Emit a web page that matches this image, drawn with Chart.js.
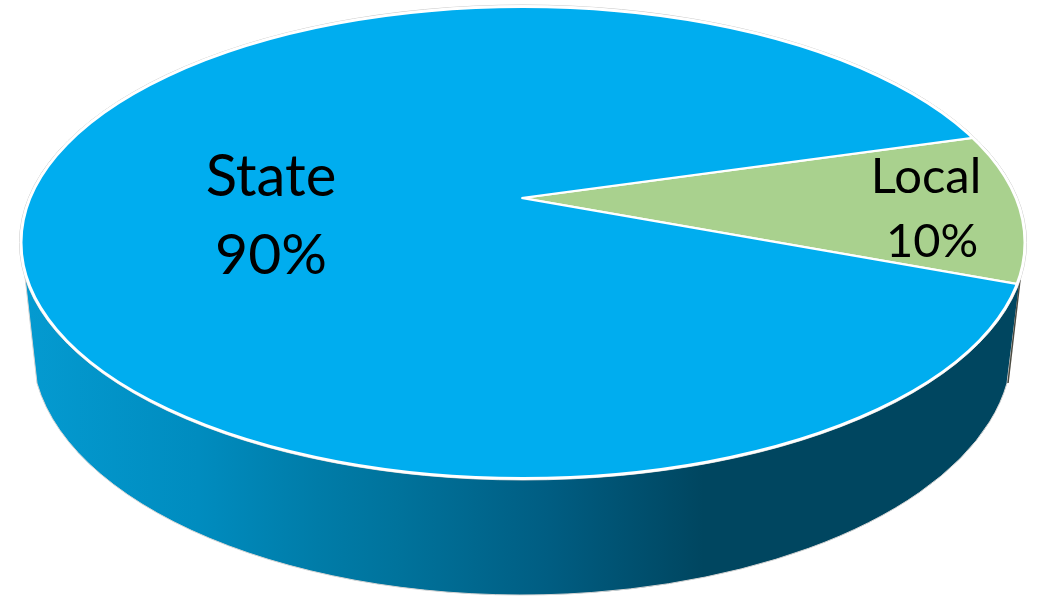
<!DOCTYPE html>
<html>
<head>
<meta charset="utf-8">
<style>
  html, body { margin: 0; padding: 0; background: #fff; }
  canvas { display: block; }
</style>
<script src="https://cdn.jsdelivr.net/npm/chart.js@4"></script>
</head>
<body>
<canvas id="fundingPie" width="1038" height="596"></canvas>
<script>
var categories = ['Local', 'State'];
var shares = [10, 90];
var sliceColors = ['#A9D18E', '#00ADEF'];

// Tilted disc: the top face is an ellipse and the apex sits above its middle
var face = { x: 523, y: 242.5, rx: 502, ry: 236 };
var base = { x: 522, y: 348, rx: 490, ry: 247, cut: 0.143 };
var apex = { x: 522, y: 198 };
var squash = 0.472;

var labelSpots = [
    { nameX: 926, nameY: 193, nameFont: '49px Lato', pctX: 932, pctY: 257, pctFont: '47px Lato' },
    { nameX: 271, nameY: 196, nameFont: '58px Lato', pctX: 271, pctY: 274, pctFont: '57px Lato' }
];

var discPlugin = {
    id: 'disc',
    beforeDatasetsDraw: function (chart) {
        var ctx = chart.ctx;

        // side wall, shaded from left to right
        var wall = ctx.createLinearGradient(30, 0, 1020, 0);
        wall.addColorStop(0, '#049AD0');
        wall.addColorStop(0.17, '#008CBF');
        wall.addColorStop(0.29, '#007CA8');
        wall.addColorStop(0.37, '#00739C');
        wall.addColorStop(0.525, '#005D82');
        wall.addColorStop(0.68, '#004660');
        wall.addColorStop(1, '#004660');

        ctx.save();
        ctx.beginPath();
        ctx.moveTo(24, 268);
        ctx.ellipse(base.x, base.y, base.rx, base.ry, 0, Math.PI - base.cut, base.cut, true);
        ctx.lineTo(1020, 280);
        ctx.closePath();
        ctx.fillStyle = wall;
        ctx.fill();
        ctx.strokeStyle = '#D4D4D4';
        ctx.lineWidth = 1;
        ctx.stroke();

        // dark sliver of the Local slice's wall on the far right
        ctx.beginPath();
        ctx.moveTo(1020, 280);
        ctx.lineTo(1008, 383);
        ctx.strokeStyle = '#4A4A40';
        ctx.lineWidth = 1.5;
        ctx.stroke();

        // faint edge round the top face
        ctx.beginPath();
        ctx.ellipse(face.x, face.y, face.rx + 1.5, face.ry + 1.5, 0, 0, Math.PI * 2);
        ctx.strokeStyle = '#C8C8C8';
        ctx.lineWidth = 1;
        ctx.stroke();
        ctx.restore();

        // slices are drawn oversized, squashed, and cut down to the top face
        var arc = chart.getDatasetMeta(0).data[0];
        ctx.save();
        ctx.beginPath();
        ctx.ellipse(face.x, face.y, face.rx, face.ry, 0, 0, Math.PI * 2);
        ctx.clip();
        ctx.translate(apex.x, apex.y);
        ctx.scale(1, squash);
        ctx.translate(-arc.x, -arc.y);
    },
    afterDatasetsDraw: function (chart) {
        var ctx = chart.ctx;
        ctx.restore();

        ctx.save();
        ctx.beginPath();
        ctx.ellipse(face.x, face.y, face.rx, face.ry, 0, 0, Math.PI * 2);
        ctx.strokeStyle = '#FFFFFF';
        ctx.lineWidth = 3;
        ctx.stroke();

        ctx.fillStyle = '#000000';
        ctx.textAlign = 'center';
        ctx.textBaseline = 'alphabetic';
        categories.forEach(function (name, i) {
            var spot = labelSpots[i];
            ctx.font = spot.nameFont;
            ctx.fillText(name, spot.nameX, spot.nameY);
            ctx.font = spot.pctFont;
            ctx.fillText(shares[i] + '%', spot.pctX, spot.pctY);
        });
        ctx.restore();
    }
};

new Chart(document.getElementById('fundingPie').getContext('2d'), {
    type: 'pie',
    data: {
        labels: categories,
        datasets: [{
            data: shares,
            backgroundColor: sliceColors,
            borderColor: '#FFFFFF',
            borderWidth: 4.5,
            clip: false
        }]
    },
    options: {
        responsive: false,
        animation: false,
        radius: 640,
        rotation: 74.2,
        plugins: {
            legend: { display: false },
            tooltip: { enabled: false }
        }
    },
    plugins: [discPlugin]
});
</script>
</body>
</html>
